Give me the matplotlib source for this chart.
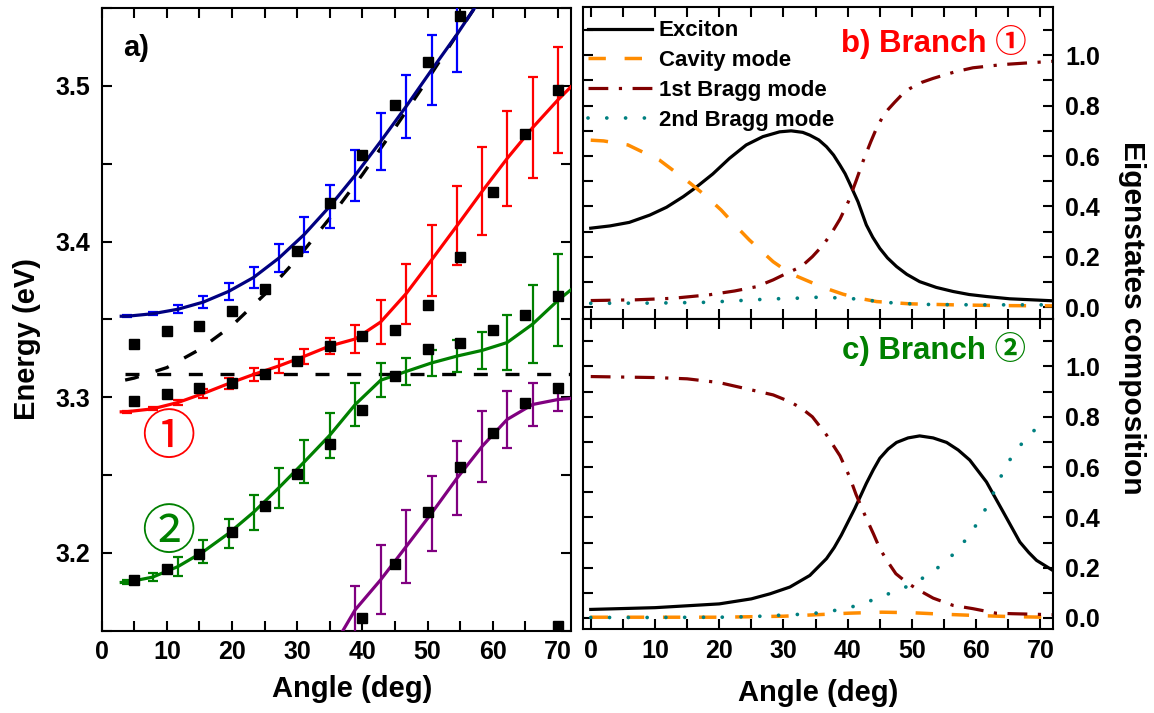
import numpy as np
import matplotlib
matplotlib.use('Agg')
import matplotlib.pyplot as plt
from matplotlib.ticker import MultipleLocator

plt.rcParams['font.family'] = ['Liberation Sans', 'Noto Sans CJK SC', 'DejaVu Sans']
plt.rcParams['font.weight'] = 'bold'
plt.rcParams['axes.labelweight'] = 'bold'

# ---------------- panel a) : measured points (black squares) ----------------
sq_upper_ang = [5, 10, 15, 20, 25, 30, 35, 40, 45, 50, 55]
sq_upper_en = [3.334, 3.3425, 3.3457, 3.3553, 3.3692, 3.394, 3.4246, 3.4558, 3.4878, 3.515, 3.545]
sq_mid_ang = [5, 10, 15, 20, 25, 30, 35, 40, 45, 50, 55, 60, 65, 70]
sq_mid_en = [3.2976, 3.302, 3.306, 3.3094, 3.3147, 3.3233, 3.333, 3.339, 3.3434, 3.359,
             3.390, 3.432, 3.469, 3.4974]
sq_low_ang = [5, 10, 15, 20, 25, 30, 35, 40, 45, 50, 55, 60, 65, 70]
sq_low_en = [3.1827, 3.1897, 3.1993, 3.2133, 3.2301, 3.2504, 3.2699, 3.292, 3.3136, 3.3308,
             3.335, 3.343, 3.3526, 3.3649]
sq_purple_ang = [40, 45, 50, 55, 60, 65, 70]
sq_purple_en = [3.158, 3.193, 3.226, 3.2553, 3.2767, 3.2964, 3.3062]
sq_extra_ang = [70]
sq_extra_en = [3.153]

# ---------------- panel a) : model branches with error bars ----------------
# (first / last entries are the line ends, error 0 there)
up_ang = [3.0, 3.9, 7.8, 11.7, 15.6, 19.5, 23.3, 27.2, 31.1, 35.0, 38.9, 42.8, 46.7, 50.6, 54.5, 58.0]
up_en = [3.352, 3.352, 3.3536, 3.3565, 3.3611, 3.368, 3.3769, 3.3894, 3.4046, 3.4226, 3.4426,
         3.4643, 3.4867, 3.5101, 3.533, 3.555]
up_err = [0, 0.0008, 0.001, 0.0025, 0.0036, 0.0053, 0.0066, 0.0091, 0.0114, 0.0138, 0.0163,
          0.0182, 0.0203, 0.0223, 0.024, 0]

b1_ang = [3.0, 3.9, 7.8, 11.7, 15.6, 19.5, 23.3, 27.2, 31.1, 35.0, 38.9, 42.8, 46.7, 50.6, 54.5,
          58.4, 62.2, 66.1, 70.0, 72.0]
b1_en = [3.2906, 3.2907, 3.2925, 3.2966, 3.3024, 3.3088, 3.3146, 3.3201, 3.3263, 3.3329, 3.3374,
         3.3483, 3.3665, 3.3881, 3.4101, 3.4324, 3.4533, 3.4731, 3.491, 3.4994]
b1_err = [0, 0.0006, 0.001, 0.0018, 0.0029, 0.0034, 0.004, 0.0045, 0.0047, 0.0054, 0.0092,
          0.0143, 0.0192, 0.0228, 0.0254, 0.0281, 0.0306, 0.0323, 0.0342, 0]

b2_ang = [3.0, 3.9, 7.8, 11.7, 15.6, 19.5, 23.3, 27.2, 31.1, 35.0, 38.9, 42.8, 46.7, 50.6, 54.5,
          58.4, 62.2, 66.1, 70.0, 72.0]
b2_en = [3.181, 3.1812, 3.1844, 3.1912, 3.2008, 3.2126, 3.2261, 3.2419, 3.2585, 3.2756, 3.2953,
         3.3109, 3.3165, 3.322, 3.3264, 3.3301, 3.3351, 3.3469, 3.3622, 3.369]
b2_err = [0, 0.0015, 0.0027, 0.0059, 0.0073, 0.0093, 0.0112, 0.0128, 0.0139, 0.0145, 0.0137,
          0.011, 0.0087, 0.0086, 0.0101, 0.0117, 0.0174, 0.0249, 0.0295, 0]

b3_ang = [37.0, 38.9, 42.8, 46.7, 50.6, 54.5, 58.4, 62.2, 66.1, 70.0, 72.0]
b3_en = [3.150, 3.1635, 3.1827, 3.204, 3.2254, 3.2479, 3.2686, 3.2857, 3.2953, 3.2985, 3.2992]
b3_err = [0, 0.015, 0.0222, 0.0234, 0.024, 0.0238, 0.0228, 0.0185, 0.0135, 0.0075, 0]

# uncoupled exciton (flat) and cavity (dispersive) energies, dashed
exc_ang = [3.6, 72.0]
exc_en = [3.315, 3.315]
cav_ang = [3.6, 5, 10, 15, 20, 25, 30, 35, 40, 45, 50, 55, 58.0]
cav_en = [3.311, 3.3123, 3.319, 3.3306, 3.346, 3.366, 3.389, 3.415, 3.443, 3.473, 3.504, 3.536, 3.555]

# ---------------- panel b) Branch 1 composition ----------------
pb_exc_ang = [0, 3, 6, 9.2, 11.8, 14.4, 16.4, 19, 21.6, 24.2, 26.8, 29.4, 31.2, 33, 34.1, 35.5,
              36.7, 37.8, 38.8, 39.6, 40.3, 41.6, 42.9, 43.9, 45, 46.2, 47.6, 49.2, 51.2, 53.8,
              56.4, 58.9, 61.6, 65.2, 72]
pb_exc = [0.314, 0.323, 0.337, 0.366, 0.397, 0.439, 0.476, 0.529, 0.591, 0.644, 0.677, 0.696,
          0.7, 0.694, 0.683, 0.664, 0.637, 0.604, 0.564, 0.53, 0.492, 0.419, 0.327, 0.278, 0.234,
          0.196, 0.162, 0.131, 0.102, 0.079, 0.063, 0.051, 0.043, 0.034, 0.026]
pb_cav_ang = [0, 2, 5.8, 8, 10.7, 13, 15.5, 18, 20.3, 22.5, 24.7, 28.4, 31, 34.6, 37, 39.3, 42,
              44.5, 49.7, 56.4, 64, 72]
pb_cav = [0.663, 0.66, 0.644, 0.617, 0.584, 0.54, 0.492, 0.44, 0.386, 0.325, 0.267, 0.181, 0.135,
          0.096, 0.072, 0.052, 0.035, 0.023, 0.014, 0.01, 0.007, 0.006]
pb_br1_ang = [0, 7.1, 12.8, 18.5, 22.4, 25.8, 28.4, 30.5, 32.8, 34.5, 36.2, 37.5, 38.8, 40.1,
              41.3, 42.4, 43.6, 44.4, 45.3, 46.3, 47.3, 48.5, 49.7, 51.5, 53.3, 56.7, 59.5, 64.2, 72]
pb_br1 = [0.027, 0.03, 0.036, 0.05, 0.065, 0.082, 0.109, 0.135, 0.162, 0.201, 0.248, 0.295, 0.35,
          0.419, 0.501, 0.58, 0.657, 0.705, 0.749, 0.785, 0.813, 0.845, 0.868, 0.892, 0.908,
          0.934, 0.95, 0.963, 0.976]
pb_br2_ang = [0, 10, 18, 28.5, 31.3, 34.5, 37.1, 40, 42.8, 45.6, 48.5, 51.4, 54.3, 60, 72]
pb_br2 = [0.016, 0.017, 0.02, 0.034, 0.035, 0.04, 0.039, 0.036, 0.03, 0.02, 0.016, 0.012,
          0.011, 0.01, 0.01]

# ---------------- panel c) Branch 2 composition ----------------
pc_exc_ang = [0, 10, 20, 25, 27.9, 31, 34.1, 36.7, 37.9, 39, 41.1, 42.9, 44, 45, 46.3, 47.6,
              49.4, 51.2, 53.3, 55.4, 57.2, 59, 61.6, 64.2, 66.8, 68.2, 69.4, 72]
pc_exc = [0.034, 0.041, 0.056, 0.076, 0.096, 0.123, 0.169, 0.236, 0.28, 0.329, 0.435, 0.535,
          0.59, 0.635, 0.672, 0.698, 0.716, 0.724, 0.716, 0.698, 0.668, 0.628, 0.541, 0.422,
          0.302, 0.26, 0.229, 0.188]
pc_cav_ang = [0, 20, 25, 30, 35.2, 40.1, 45.3, 49.9, 54.8, 59.8, 64.7, 70.4, 72]
pc_cav = [0.003, 0.003, 0.005, 0.007, 0.013, 0.019, 0.023, 0.021, 0.015, 0.01, 0.006, 0.003, 0.003]
pc_br1_ang = [0, 10, 15, 20, 25, 28.4, 31, 32.8, 34.5, 36.7, 38.8, 40.3, 41.3, 42.9, 44, 45,
              46.2, 47.5, 49, 50.7, 53.3, 56.4, 59.5, 63.1, 65.6, 72]
pc_br1 = [0.96, 0.956, 0.951, 0.936, 0.907, 0.887, 0.86, 0.834, 0.8, 0.728, 0.645, 0.561, 0.491,
          0.396, 0.335, 0.276, 0.225, 0.176, 0.145, 0.116, 0.079, 0.05, 0.037, 0.019, 0.017, 0.013]
pc_br2_ang = [0, 10, 20, 25, 28.5, 31.4, 34.3, 37.1, 40, 42.8, 45.7, 48.5, 51.4, 54.2, 57, 59.3,
              61, 62.5, 63.8, 65.3, 67.4, 69.9]
pc_br2 = [0.002, 0.002, 0.003, 0.005, 0.01, 0.013, 0.017, 0.026, 0.039, 0.061, 0.09, 0.116,
          0.154, 0.203, 0.266, 0.342, 0.411, 0.486, 0.56, 0.631, 0.704, 0.768]

legend_labels = ['Exciton', 'Cavity mode', '1st Bragg mode', '2nd Bragg mode']

# ------------------------------------------------------------------
fig = plt.figure(figsize=(11.54, 7.13), dpi=100)
ax_a = fig.add_axes([0.0881, 0.1154, 0.4067, 0.8734])
ax_b = fig.add_axes([0.5055, 0.553, 0.4072, 0.4368])
ax_c = fig.add_axes([0.5055, 0.1174, 0.4072, 0.4356])


def style(ax):
    ax.tick_params(which='both', direction='in', top=True, right=True, length=7.5, width=1.5,
                   labelsize=18, pad=7)
    for s in ax.spines.values():
        s.set_linewidth(1.5)


# panel a
dash_k = (0, (4.2, 5.3))
ax_a.plot(exc_ang, exc_en, color='k', lw=2.4, ls=dash_k, zorder=2)
ax_a.plot(cav_ang, cav_en, color='k', lw=2.4, ls=dash_k, zorder=2)


def branch(ang, en, err, line_c, bar_c):
    ang, en, err = np.array(ang), np.array(en), np.array(err)
    m = err > 0
    ax_a.errorbar(ang[m], en[m], yerr=err[m], fmt='none', ecolor=bar_c, elinewidth=1.6,
                  capsize=3.6, capthick=1.6, zorder=3)
    ax_a.plot(ang, en, color=line_c, lw=2.3, zorder=4)


branch(up_ang, up_en, up_err, '#000080', '#0000FF')
branch(b1_ang, b1_en, b1_err, '#FF0000', '#FF0000')
branch(b2_ang, b2_en, b2_err, '#008000', '#008000')
branch(b3_ang, b3_en, b3_err, '#800080', '#800080')

for xs, ys in [(sq_upper_ang, sq_upper_en), (sq_mid_ang, sq_mid_en), (sq_low_ang, sq_low_en),
               (sq_purple_ang, sq_purple_en), (sq_extra_ang, sq_extra_en)]:
    ax_a.plot(xs, ys, ls='none', marker='s', ms=7.5, color='k', zorder=5)

ax_a.set_xlim(0, 72)
ax_a.set_ylim(3.15, 3.55)
ax_a.xaxis.set_major_locator(MultipleLocator(10))
ax_a.xaxis.set_minor_locator(MultipleLocator(5))
ax_a.yaxis.set_major_locator(MultipleLocator(0.1))
ax_a.yaxis.set_minor_locator(MultipleLocator(0.05))
style(ax_a)
ax_a.tick_params(axis='y', pad=8)
ax_a.text(0.0454, 0.936, 'a)', transform=ax_a.transAxes, ha='left', va='center', fontsize=21)
ax_a.text(10.2, 3.2735, '①', color='#FF0000', fontsize=39, fontweight='normal',
          family=['Noto Sans CJK SC'], ha='center', va='center')
ax_a.text(10.2, 3.2126, '②', color='#008000', fontsize=39, fontweight='normal',
          family=['Noto Sans CJK SC'], ha='center', va='center')

# panels b, c
styles = [dict(color='k', lw=2.3, ls='-'),
          dict(color='#FF8C00', lw=2.5, ls=(0, (5, 5.4))),
          dict(color='#800000', lw=2.3, ls=(0, (6.2, 3.3, 1, 3.3))),
          dict(color='#008080', lw=2.7, ls=(0, (0.01, 5.0)), dash_capstyle='round')]

for ax, curves in [(ax_b, [(pb_exc_ang, pb_exc), (pb_cav_ang, pb_cav), (pb_br1_ang, pb_br1),
                           (pb_br2_ang, pb_br2)]),
                   (ax_c, [(pc_exc_ang, pc_exc), (pc_cav_ang, pc_cav), (pc_br1_ang, pc_br1),
                           (pc_br2_ang, pc_br2)])]:
    for (xs, ys), st, lab in zip(curves, styles, legend_labels):
        ax.plot(xs, ys, label=lab, **st)
    ax.set_xlim(-1.15, 72)
    ax.set_ylim(-0.045, 1.19)
    ax.xaxis.set_major_locator(MultipleLocator(10))
    ax.xaxis.set_minor_locator(MultipleLocator(5))
    ax.yaxis.set_major_locator(MultipleLocator(0.2))
    ax.yaxis.set_minor_locator(MultipleLocator(0.1))
    style(ax)
    ax.tick_params(axis='y', labelleft=False, labelright=True, pad=8.5)

ax_b.tick_params(axis='x', labelbottom=False)
ax_b.legend(loc='upper left', bbox_to_anchor=(0.01, 0.958), borderaxespad=0, borderpad=0,
            frameon=False, fontsize=16, handlelength=2.86, handletextpad=0.33, labelspacing=0.4)
ax_b.text(0.942, 0.857, 'b) Branch ①', transform=ax_b.transAxes, ha='right', va='baseline',
          fontsize=22.5, color='#FF0000')
ax_c.text(0.942, 0.871, 'c) Branch ②', transform=ax_c.transAxes, ha='right', va='baseline',
          fontsize=22.5, color='#008000')

# axis labels
fig.text(27 / 1154, 1 - 339 / 713, 'Energy (eV)', rotation=90, ha='center', va='center', fontsize=21)
fig.text(352 / 1154, 1 - 696.7 / 713, 'Angle (deg)', ha='center', va='baseline', fontsize=21)
fig.text(818.5 / 1154, 1 - 700.7 / 713, 'Angle (deg)', ha='center', va='baseline', fontsize=21)
fig.text(1132.5 / 1154, 1 - 318 / 713, 'Eigenstates composition', rotation=270, ha='center',
         va='center', fontsize=21.5)

fig.savefig('out.png', dpi=100)
